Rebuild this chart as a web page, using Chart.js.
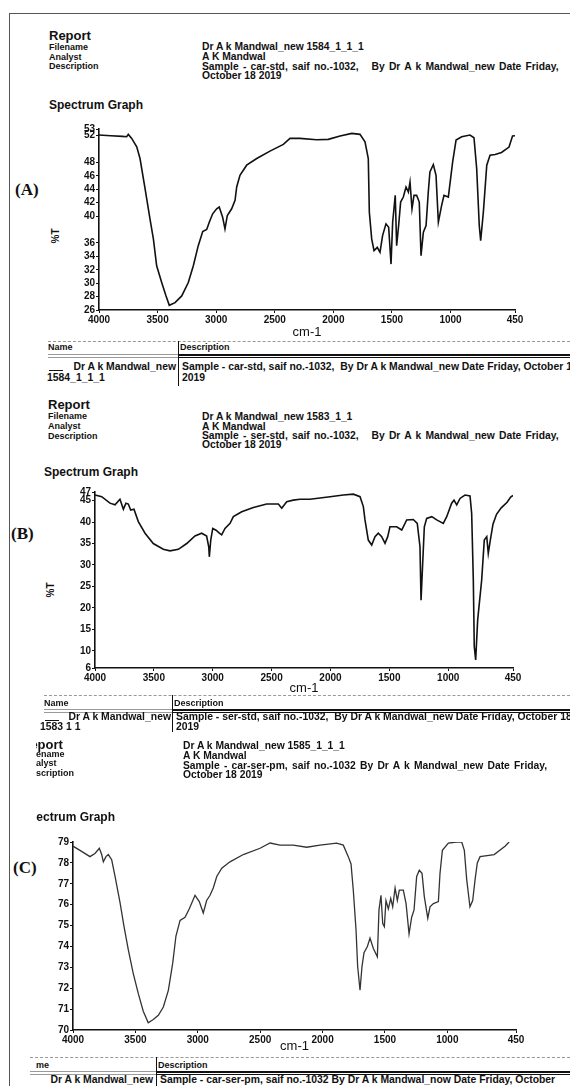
<!DOCTYPE html>
<html>
<head>
<meta charset="utf-8">
<script src="https://cdn.jsdelivr.net/npm/chart.js@4.4.1/dist/chart.umd.min.js"></script>
<style>
  html, body { margin: 0; padding: 0; background: #fff; }
  body { width: 570px; height: 1086px; position: relative; overflow: hidden;
         font-family: "Liberation Sans", Arial, sans-serif; color: #111; }
  .t { position: absolute; white-space: pre; line-height: 1; font-weight: bold; }
  .s9 { font-size: 9px; }
  .s95 { font-size: 10.4px; }
  .s10 { font-size: 10.3px; }
  .ws { word-spacing: 1.4px; }
  .rep { font-size: 13px; }
  .sg { font-size: 12px; }
  .lab { font-family: "Liberation Serif", "Times New Roman", serif; font-size: 17px; }
  .pt { font-size: 10px; transform: rotate(-90deg); }
  .ln { position: absolute; background: #111; }
  .gl { position: absolute; background: #9a9a9a; }
  .dash { position: absolute; height: 0; border-top: 1px dashed #999; }
  .clip { position: absolute; overflow: hidden; }
  canvas { position: absolute; }
</style>
</head>
<body>

<!-- frame -->
<div class="ln" style="left:9px;top:13px;width:1px;height:1073px;background:#555"></div>
<div class="ln" style="left:9px;top:13px;width:561px;height:1px;background:#555"></div>

<!-- block A -->
<div class="t rep" style="left:49px;top:28.5px">Report</div>
<div class="t s9" style="left:49px;top:42.5px">Filename</div>
<div class="t s9" style="left:49px;top:52.5px">Analyst</div>
<div class="t s9" style="left:49px;top:62px">Description</div>
<div class="t s10" style="left:202px;top:42px">Dr A k Mandwal_new 1584_1_1_1</div>
<div class="t s10" style="left:202px;top:52px">A K Mandwal</div>
<div class="t s10 ws" style="left:202px;top:61.5px">Sample - car-std, saif no.-1032,   By Dr A k Mandwal_new Date Friday,</div>
<div class="t s10" style="left:202px;top:70.5px">October 18 2019</div>
<div class="t sg" style="left:49px;top:99px">Spectrum Graph</div>
<div class="t lab" style="left:15px;top:180.5px">(A)</div>
<div class="t pt" style="left:48px;top:231px">%T</div>
<canvas id="chartA"></canvas>

<div class="dash" style="left:48px;top:341px;width:522px"></div>
<div class="t s9" style="left:48px;top:342.5px">Name</div>
<div class="t s9" style="left:180px;top:342.5px">Description</div>
<div class="gl" style="left:48px;top:354px;width:130px;height:1px"></div>
<div class="gl" style="left:48px;top:356.5px;width:130px;height:1px"></div>
<div class="ln" style="left:178px;top:354px;width:392px;height:1.5px"></div>
<div class="ln" style="left:178px;top:356.5px;width:392px;height:1px"></div>
<div class="ln" style="left:178px;top:341px;width:1px;height:45px"></div>
<div class="ln" style="left:49px;top:370px;width:14px;height:1px"></div>
<div class="t s95" style="right:394px;top:362px">Dr A k Mandwal_new</div>
<div class="t s95" style="left:47px;top:373px">1584_1_1_1</div>
<div class="t s95" style="left:182px;top:362px">Sample - car-std, saif no.-1032,  By Dr A k Mandwal_new Date Friday, October 18</div>
<div class="t s95" style="left:182px;top:373px">2019</div>

<!-- block B -->
<div class="t rep" style="left:48px;top:397.5px">Report</div>
<div class="t s9" style="left:48px;top:412px">Filename</div>
<div class="t s9" style="left:48px;top:422px">Analyst</div>
<div class="t s9" style="left:48px;top:431.5px">Description</div>
<div class="t s10" style="left:202px;top:411.5px">Dr A k Mandwal_new 1583_1_1</div>
<div class="t s10" style="left:202px;top:421.5px">A K Mandwal</div>
<div class="t s10 ws" style="left:202px;top:431px">Sample - ser-std, saif no.-1032,   By Dr A k Mandwal_new Date Friday,</div>
<div class="t s10" style="left:202px;top:440px">October 18 2019</div>
<div class="t sg" style="left:44px;top:466px">Spectrum Graph</div>
<div class="t lab" style="left:11px;top:524.5px">(B)</div>
<div class="t pt" style="left:43px;top:585px">%T</div>
<canvas id="chartB"></canvas>

<div class="dash" style="left:44px;top:695px;width:526px"></div>
<div class="t s9" style="left:44px;top:698.5px">Name</div>
<div class="t s9" style="left:174px;top:698.5px">Description</div>
<div class="gl" style="left:44px;top:709px;width:128px;height:1px"></div>
<div class="gl" style="left:44px;top:711.5px;width:128px;height:1px"></div>
<div class="ln" style="left:172px;top:709px;width:398px;height:1.5px"></div>
<div class="ln" style="left:172px;top:711.5px;width:398px;height:1px"></div>
<div class="ln" style="left:172px;top:695px;width:1px;height:37px"></div>
<div class="ln" style="left:45px;top:719.5px;width:14px;height:1px"></div>
<div class="t s95" style="right:399px;top:711.5px">Dr A k Mandwal_new</div>
<div class="t s95" style="left:40px;top:721.5px">1583 1 1</div>
<div class="t s95" style="left:176px;top:711.5px">Sample - ser-std, saif no.-1032,  By Dr A k Mandwal_new Date Friday, October 18</div>
<div class="t s95" style="left:176px;top:721.5px">2019</div>

<!-- block C (left edge cut off in the scan) -->
<div class="clip" style="left:36px;top:730px;width:150px;height:95px">
  <div class="t rep" style="left:-15px;top:7.5px">Report</div>
  <div class="t s9" style="left:-10.5px;top:19.5px">Filename</div>
  <div class="t s9" style="left:-12px;top:29px">Analyst</div>
  <div class="t s9" style="left:-11.5px;top:38.5px">Description</div>
  <div class="t sg" style="left:-15px;top:81px">Spectrum Graph</div>
</div>
<div class="t s10" style="left:183px;top:741px">Dr A k Mandwal_new 1585_1_1_1</div>
<div class="t s10" style="left:183px;top:751px">A K Mandwal</div>
<div class="t s10 ws" style="left:183px;top:760.5px">Sample - car-ser-pm, saif no.-1032 By Dr A k Mandwal_new Date Friday,</div>
<div class="t s10" style="left:183px;top:770px">October 18 2019</div>
<div class="t lab" style="left:13px;top:858.5px">(C)</div>
<canvas id="chartC"></canvas>

<div class="dash" style="left:30px;top:1057px;width:540px"></div>
<div class="clip" style="left:36px;top:1058px;width:100px;height:12px">
  <div class="t s9" style="left:-11.5px;top:2.5px">Name</div>
</div>
<div class="t s9" style="left:158px;top:1060.5px">Description</div>
<div class="gl" style="left:30px;top:1071px;width:126px;height:1px"></div>
<div class="gl" style="left:30px;top:1073.5px;width:126px;height:1px"></div>
<div class="ln" style="left:156px;top:1071px;width:414px;height:1.5px"></div>
<div class="ln" style="left:156px;top:1073.5px;width:414px;height:1px"></div>
<div class="ln" style="left:156px;top:1057px;width:1px;height:29px"></div>
<div class="t s95" style="right:417px;top:1074.5px">Dr A k Mandwal_new</div>
<div class="t s95" style="left:160px;top:1074.5px">Sample - car-ser-pm, saif no.-1032 By Dr A k Mandwal_now Date Friday, October</div>

<script>
// x axis (wavenumber, cm-1) tick labels shared by all three spectra
const xTicks = [4000, 3500, 3000, 2500, 2000, 1500, 1000, 450];

// (A) car-std
const yTicksA = [53, 52, 48, 46, 44, 42, 40, 36, 34, 32, 30, 28, 26];
const waveA = [
  4000, 3900, 3800, 3764, 3750, 3721, 3678, 3650, 3607, 3565,
  3536, 3508, 3465, 3428, 3400, 3351, 3294, 3238, 3195, 3153,
  3115, 3081, 3059, 3030, 2996, 2974, 2945, 2925, 2905, 2868,
  2839, 2825, 2797, 2740, 2654, 2541, 2427, 2370, 2285, 2142,
  2043, 1943, 1843, 1773, 1730, 1702, 1693, 1673, 1653, 1625,
  1602, 1580, 1551, 1528, 1508, 1494, 1483, 1472, 1460, 1443,
  1426, 1403, 1380, 1360, 1346, 1329, 1312, 1289, 1267, 1252,
  1232, 1209, 1190, 1176, 1147, 1124, 1104, 1076, 1056, 1019,
  982, 953, 905, 834, 800, 777, 755, 743, 720, 691,
  663, 620, 565, 501, 471, 450
];
const transA = [
  52.1, 52.0, 51.9, 51.85, 52.2, 51.6, 50.35, 48.6, 44.1, 39.6,
  36.6, 32.6, 30.1, 28.1, 26.7, 27.1, 28.1, 30.1, 32.6, 35.6,
  37.7, 38.0, 39.1, 40.35, 41.1, 41.35, 39.85, 38.1, 40.1, 41.1,
  42.35, 44.35, 46.1, 47.6, 48.6, 49.7, 50.7, 51.6, 51.6, 51.4,
  51.45, 51.95, 52.35, 52.2, 51.1, 48.6, 40.6, 36.6, 34.85, 35.35,
  34.6, 37.1, 38.85, 38.35, 32.85, 39.1, 41.1, 43.1, 35.6, 38.6,
  42.1, 42.85, 44.35, 43.6, 45.1, 41.1, 43.1, 43.1, 42.1, 34.1,
  37.6, 38.6, 43.6, 46.6, 47.7, 46.1, 39.1, 41.6, 43.1, 42.85,
  48.1, 51.35, 51.85, 52.1, 51.7, 47.1, 38.6, 36.35, 40.6, 47.6,
  49.1, 49.2, 49.5, 50.3, 51.95, 52.0
];

// (B) ser-std
const yTicksB = [47, 45, 40, 35, 30, 25, 20, 15, 10, 6];
const waveB = [
  4000, 3943, 3873, 3830, 3788, 3759, 3737, 3717, 3697, 3669,
  3632, 3575, 3505, 3420, 3363, 3292, 3221, 3151, 3094, 3052,
  3034, 3029, 3017, 3000, 2972, 2944, 2924, 2896, 2853, 2825,
  2754, 2655, 2542, 2443, 2414, 2372, 2316, 2259, 2174, 2004,
  1891, 1806, 1749, 1721, 1707, 1679, 1650, 1622, 1594, 1565,
  1537, 1514, 1495, 1438, 1395, 1353, 1297, 1263, 1240, 1231,
  1217, 1203, 1183, 1140, 1098, 1042, 1013, 971, 951, 928,
  900, 858, 815, 801, 787, 779, 767, 750, 716, 694,
  673, 660, 645, 620, 590, 550, 500, 470, 450
];
const transB = [
  46.3, 45.9, 44.4, 44.0, 45.3, 43.0, 44.4, 44.2, 42.8, 43.0,
  40.1, 37.4, 35.0, 33.65, 33.3, 33.65, 35.0, 36.75, 37.4, 36.75,
  34.25, 31.9, 35.8, 38.5, 38.1, 37.4, 37.0, 38.5, 39.7, 41.25,
  42.4, 43.4, 44.2, 44.2, 43.2, 44.75, 45.1, 45.3, 45.3, 45.9,
  46.3, 46.5, 45.9, 43.6, 40.5, 35.8, 34.65, 36.6, 37.4, 36.6,
  35.05, 36.6, 38.9, 38.9, 38.15, 40.5, 40.6, 39.7, 34.25, 21.8,
  30.4, 38.9, 40.85, 41.25, 40.5, 39.7, 41.25, 44.4, 45.1, 44.0,
  45.5, 46.3, 46.1, 42.0, 26.5, 11.0, 7.9, 17.2, 26.5, 35.8,
  36.6, 32.7, 35.4, 39.5, 41.8, 43.3, 44.6, 45.8, 46.2
];

// (C) car-ser-pm
const yTicksC = [79, 78, 77, 76, 75, 74, 73, 72, 71, 70];
const waveC = [
  4000, 3944, 3864, 3824, 3789, 3770, 3757, 3736, 3717, 3690,
  3663, 3623, 3591, 3557, 3517, 3477, 3437, 3397, 3357, 3316,
  3276, 3236, 3201, 3175, 3142, 3102, 3068, 3022, 2988, 2956,
  2929, 2902, 2876, 2848, 2808, 2742, 2635, 2501, 2421, 2341,
  2235, 2127, 2021, 1887, 1834, 1794, 1772, 1754, 1732, 1719,
  1700, 1684, 1668, 1641, 1620, 1593, 1561, 1548, 1532, 1518,
  1505, 1492, 1473, 1454, 1438, 1419, 1401, 1385, 1353, 1331,
  1307, 1286, 1267, 1246, 1225, 1203, 1185, 1157, 1139, 1112,
  1072, 1059, 1040, 992, 925, 885, 864, 845, 819, 797,
  778, 760, 738, 625, 538, 505
];
const transC = [
  78.8, 78.6, 78.3, 78.45, 78.7, 78.4, 78.05, 78.3, 78.4, 78.15,
  77.35, 76.1, 74.95, 73.85, 72.7, 71.75, 70.9, 70.35, 70.5, 70.7,
  71.1, 71.9, 73.2, 74.5, 75.25, 75.4, 75.8, 76.45, 76.15, 75.6,
  76.2, 76.45, 76.8, 77.35, 77.75, 78.05, 78.4, 78.7, 78.95, 78.85,
  78.85, 78.75, 78.85, 78.95, 78.85, 78.3, 77.95, 76.7, 74.8, 73.05,
  71.9, 73.05, 73.7, 74.0, 74.4, 73.9, 73.5, 75.75, 76.45, 75.1,
  74.95, 76.2, 75.8, 76.3, 75.9, 76.8, 76.2, 76.7, 76.7, 76.05,
  74.6, 75.4, 75.75, 77.35, 77.65, 77.5, 76.4, 75.35, 75.9, 76.05,
  76.15, 77.5, 78.6, 78.95, 79.0, 79.0, 78.6, 77.2, 75.9, 76.2,
  77.2, 78.0, 78.3, 78.4, 78.8, 79.0
];

const tickFont = { family: "'Liberation Sans Narrow', 'Liberation Sans', Arial, sans-serif", size: 10, weight: 'bold' };

// draws one spectrum so that its plot area sits at the given page box
function spectrum(id, box, xs, ys, yTicks, lineColor, lineWidth) {
  const yW = 40, padT = 8, padR = 24;
  const xH = box.cmY + 7 - box.bottom;
  const cv = document.getElementById(id);
  const left = box.left - yW, top = box.top - padT;
  const w = box.right + padR - left, h = box.bottom + xH - top;
  cv.style.left = left + 'px';
  cv.style.top = top + 'px';
  cv.width = w; cv.height = h;
  cv.style.width = w + 'px'; cv.style.height = h + 'px';

  const axisGrid = { drawOnChartArea: false, drawTicks: true, tickLength: 3, color: '#111', lineWidth: 1 };
  const axisBorder = { color: '#111', width: 1.6 };

  new Chart(cv, {
    type: 'line',
    data: {
      datasets: [{
        data: xs.map((x, i) => ({ x: x, y: ys[i] })),
        borderColor: lineColor,
        borderWidth: lineWidth,
        pointRadius: 0,
        tension: 0,
        fill: false
      }]
    },
    options: {
      responsive: false,
      animation: false,
      events: [],
      layout: { padding: { top: padT, right: padR, left: 0, bottom: 0 } },
      plugins: { legend: { display: false }, tooltip: { enabled: false } },
      scales: {
        x: {
          type: 'linear', reverse: true, min: 450, max: 4000,
          afterBuildTicks: s => { s.ticks = xTicks.map(v => ({ value: v })); },
          afterFit: s => { s.height = xH; },
          grid: axisGrid, border: axisBorder,
          ticks: { color: '#111', font: tickFont, padding: 1, maxRotation: 0, autoSkip: false, callback: v => String(v) },
          title: { display: true, text: 'cm-1', color: '#111',
                   font: { family: "'Liberation Sans', Arial, sans-serif", size: 13 },
                   padding: { top: 0, bottom: 0 } }
        },
        y: {
          type: 'linear', min: yTicks[yTicks.length - 1], max: yTicks[0],
          afterBuildTicks: s => { s.ticks = yTicks.map(v => ({ value: v })); },
          afterFit: s => { s.width = yW; },
          grid: axisGrid, border: axisBorder,
          ticks: { color: '#111', font: tickFont, padding: 1, autoSkip: false, callback: v => String(v) }
        }
      }
    }
  });
}

spectrum('chartA', { left: 99, right: 515, top: 129, bottom: 310, cmY: 333 }, waveA, transA, yTicksA, '#111', 1.6);
spectrum('chartB', { left: 95, right: 513, top: 492, bottom: 668, cmY: 689 }, waveB, transB, yTicksB, '#111', 1.6);
spectrum('chartC', { left: 73, right: 516, top: 842, bottom: 1030, cmY: 1047 }, waveC, transC, yTicksC, '#333', 1.3);
</script>
</body>
</html>
